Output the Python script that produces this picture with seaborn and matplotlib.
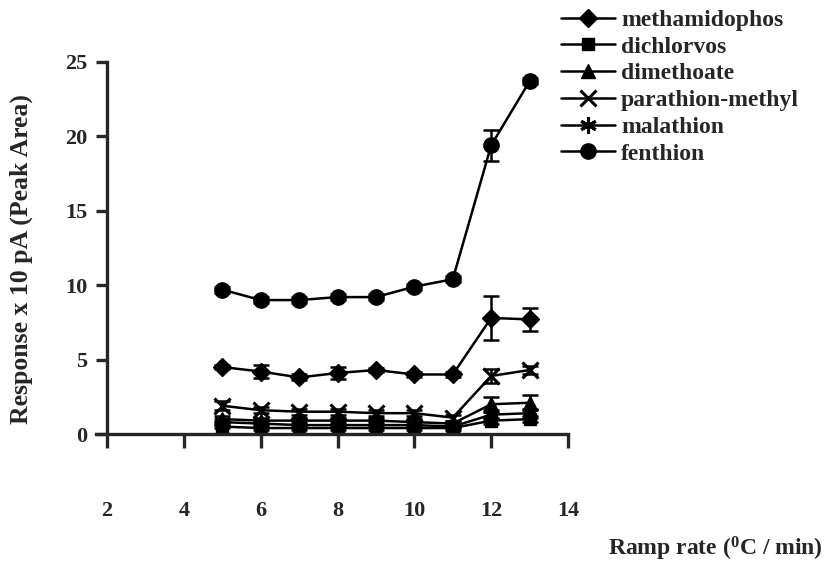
import numpy as np
import pandas as pd
import seaborn as sns
import matplotlib
matplotlib.use("Agg")
import matplotlib.pyplot as plt

# ramp rates (degC / min)
ramp = [5, 6, 7, 8, 9, 10, 11, 12, 13]

compounds = ["methamidophos", "dichlorvos", "dimethoate",
             "parathion-methyl", "malathion", "fenthion"]

# response x 10 pA
methamidophos = [4.5, 4.2, 3.8, 4.1, 4.3, 4.0, 4.0, 7.8, 7.7]
dichlorvos = [0.5, 0.4, 0.4, 0.4, 0.4, 0.4, 0.4, 0.9, 1.0]
dimethoate = [1.0, 0.9, 0.9, 0.9, 0.9, 0.8, 0.7, 2.0, 2.1]
parathion_methyl = [1.9, 1.6, 1.5, 1.5, 1.4, 1.4, 1.1, 3.9, 4.3]
malathion = [0.8, 0.7, 0.6, 0.6, 0.6, 0.6, 0.5, 1.3, 1.4]
fenthion = [9.7, 9.0, 9.0, 9.2, 9.2, 9.9, 10.4, 19.4, 23.7]

# error bars (sd)
methamidophos_err = [0.15, 0.45, 0.2, 0.4, 0.15, 0.15, 0.15, 1.5, 0.8]
dichlorvos_err = [0.1, 0.1, 0.1, 0.1, 0.1, 0.1, 0.1, 0.2, 0.2]
dimethoate_err = [0.2, 0.2, 0.2, 0.2, 0.2, 0.2, 0.2, 0.5, 0.5]
parathion_methyl_err = [0.3, 0.2, 0.2, 0.2, 0.2, 0.2, 0.2, 0.5, 0.3]
malathion_err = [0.1, 0.1, 0.1, 0.1, 0.1, 0.1, 0.1, 0.3, 0.3]
fenthion_err = [0.2, 0.2, 0.2, 0.2, 0.2, 0.2, 0.2, 1.05, 0.2]

values = [methamidophos, dichlorvos, dimethoate, parathion_methyl, malathion, fenthion]
errors = [methamidophos_err, dichlorvos_err, dimethoate_err,
          parathion_methyl_err, malathion_err, fenthion_err]

markers = {"methamidophos": "D", "dichlorvos": "s", "dimethoate": "^",
           "parathion-methyl": "x", "malathion": (6, 2, 0), "fenthion": "o"}
sizes = {"methamidophos": 9, "dichlorvos": 9, "dimethoate": 10,
         "parathion-methyl": 11, "malathion": 12, "fenthion": 11}

sns.set_style("ticks")
plt.rcParams["font.family"] = ["Liberation Serif", "DejaVu Serif"]
plt.rcParams["font.weight"] = "bold"
plt.rcParams["mathtext.fontset"] = "custom"
plt.rcParams["mathtext.rm"] = "Liberation Serif:bold"
plt.rcParams["mathtext.it"] = "Liberation Serif:bold"

fig = plt.figure(figsize=(8.29, 5.76), dpi=100)
ax = fig.add_axes([0.1152, 0.2465, 0.570, 0.646])

for name, vals, err in zip(compounds, values, errors):
    line_art = name in ("parathion-methyl", "malathion")
    sns.lineplot(x=ramp, y=vals, color="black", linewidth=1.8,
                 marker=markers[name], markersize=sizes[name],
                 markeredgecolor="black", markerfacecolor="black",
                 markeredgewidth=2.2 if line_art else 1,
                 label=name, ax=ax)
    ax.errorbar(ramp, vals, yerr=err, fmt="none", ecolor="black",
                elinewidth=1.8, capsize=6, capthick=1.8)

ax.set_xlim(1.7, 14)
ax.set_ylim(0, 25)
ax.set_xticks([2, 4, 6, 8, 10, 12, 14])
ax.set_yticks([0, 5, 10, 15, 20, 25])

ax.spines["left"].set_position(("data", 2))
ax.spines["top"].set_visible(False)
ax.spines["right"].set_visible(False)
for s in ("left", "bottom"):
    ax.spines[s].set_linewidth(2.4)
ax.tick_params(axis="x", direction="out", length=10, width=2.4, pad=38, labelsize=16)
ax.tick_params(axis="y", direction="out", length=8, width=2.4, pad=6, labelsize=16)

ax.set_xlabel(r"Ramp rate ($^{0}$C / min)", fontsize=17, fontweight="bold",
              ha="right", va="center")
ax.xaxis.set_label_coords(1.54, -0.31)
ax.set_ylabel("Response x 10 pA (Peak Area)", fontsize=18.5, fontweight="bold",
              va="center")
ax.yaxis.set_label_coords(-0.158, 0.47)

handles, labels = ax.get_legend_handles_labels()
ax.legend(handles, labels, loc="upper left", bbox_to_anchor=(0.665, 1.0),
          bbox_transform=fig.transFigure, frameon=False, fontsize=17,
          handlelength=2.3, handletextpad=0.25, labelspacing=0.22,
          borderaxespad=0)

fig.savefig("out.png", dpi=100)
